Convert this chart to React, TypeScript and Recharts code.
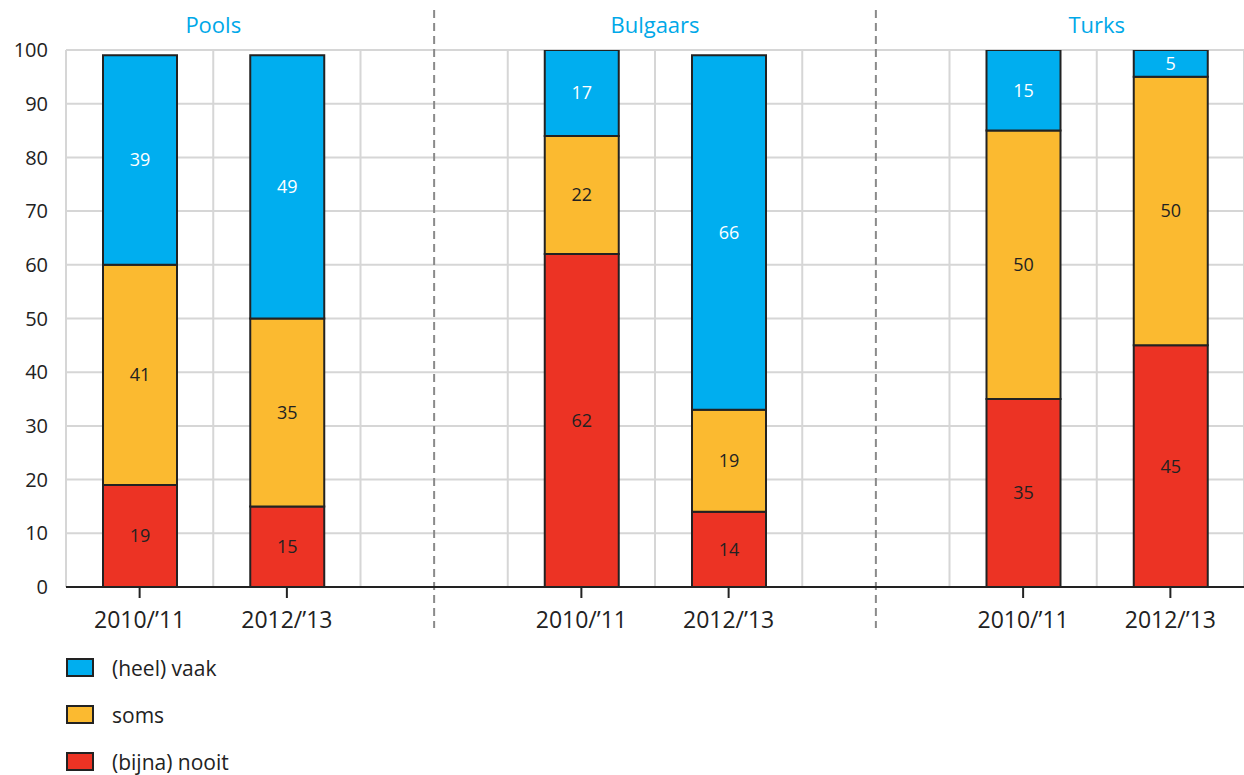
import React from "react";
import {
  Bar,
  BarChart,
  CartesianGrid,
  LabelList,
  Legend,
  ReferenceLine,
  XAxis,
  YAxis,
} from "recharts";

const slots = ["pools-a", "pools-b", "gap-1", "bulg-a", "bulg-b", "gap-2", "turks-a", "turks-b"];
const periods = ["2010/’11", "2012/’13", "", "2010/’11", "2012/’13", "", "2010/’11", "2012/’13"];
const groupTitles = ["Pools", "", "", "Bulgaars", "", "", "Turks", ""];
const gapSlots = ["gap-1", "gap-2"];

const nooit = [19, 15, null, 62, 14, null, 35, 45];
const soms = [41, 35, null, 22, 19, null, 50, 50];
const vaak = [39, 49, null, 17, 66, null, 15, 5];

const yTicks = [0, 10, 20, 30, 40, 50, 60, 70, 80, 90, 100];

const series = [
  { key: "nooit", name: "(bijna) nooit", color: "#ec3324", labelColor: "#222222" },
  { key: "soms", name: "soms", color: "#fbba30", labelColor: "#222222" },
  { key: "vaak", name: "(heel) vaak", color: "#00aeef", labelColor: "#ffffff" },
];

const data = slots.map((slot, i) => ({
  slot,
  nooit: nooit[i],
  soms: soms[i],
  vaak: vaak[i],
}));

const FONT = "'Open Sans', sans-serif";
const INK = "#222222";

function PeriodTick(props: any) {
  const { x, y, payload } = props;
  const label = periods[slots.indexOf(payload.value)];
  if (!label) return null;
  return (
    <g>
      <line x1={x} x2={x} y1={y} y2={y + 11} stroke={INK} strokeWidth={2} />
      <text x={x} y={y + 41} textAnchor="middle" fontSize={23} fill={INK} fontFamily={FONT}>
        {label}
      </text>
    </g>
  );
}

function GroupTick(props: any) {
  const { x, y, payload, width } = props;
  const title = groupTitles[slots.indexOf(payload.value)];
  if (!title) return null;
  const slotWidth = (width || 1178) / slots.length;
  return (
    <text
      x={x + slotWidth / 2}
      y={y - 17}
      textAnchor="middle"
      fontSize={22}
      fill="#00a8e8"
      fontFamily={FONT}
    >
      {title}
    </text>
  );
}

function LegendBox() {
  const rows = [...series].reverse();
  return (
    <div style={{ paddingTop: 4, paddingLeft: 66, fontFamily: FONT }}>
      {rows.map((s) => (
        <div key={s.key} style={{ display: "flex", alignItems: "center", height: 47 }}>
          <span
            style={{
              display: "inline-block",
              width: 24,
              height: 15,
              background: s.color,
              border: `2px solid ${INK}`,
            }}
          />
          <span style={{ marginLeft: 18, fontSize: 21, lineHeight: "26px", color: INK }}>{s.name}</span>
        </div>
      ))}
    </div>
  );
}

function GroupDivider(p: any) {
  const top = Math.min(p.y1, p.y2);
  const bottom = Math.max(p.y1, p.y2);
  return (
    <line
      x1={p.x1}
      x2={p.x2}
      y1={top - 40}
      y2={bottom + 41}
      stroke="#8a8a8a"
      strokeWidth={2}
      strokeDasharray="8 5"
    />
  );
}

export default function App() {
  return (
    <div style={{ position: "absolute", left: 0, top: 0, background: "#fff" }}>
      <BarChart
        width={1244}
        height={775}
        data={data}
        margin={{ top: 0, right: 0, bottom: 0, left: 0 }}
        barSize={74}
      >
        <CartesianGrid
          stroke="#d6d6d6"
          strokeWidth={2}
          verticalCoordinatesGenerator={({ offset }: any) =>
            Array.from({ length: slots.length + 1 }, (_, i) => offset.left + (i * offset.width) / slots.length)
          }
        />
        <XAxis
          xAxisId="top"
          orientation="top"
          dataKey="slot"
          height={50}
          axisLine={false}
          tickLine={false}
          tickSize={0}
          tickMargin={0}
          interval={0}
          tick={<GroupTick />}
        />
        <XAxis
          dataKey="slot"
          height={53}
          axisLine={{ stroke: INK, strokeWidth: 2 }}
          tickLine={false}
          tickSize={0}
          tickMargin={0}
          interval={0}
          tick={<PeriodTick />}
        />
        <YAxis
          domain={[0, 100]}
          allowDataOverflow
          ticks={yTicks}
          width={66}
          axisLine={false}
          tickLine={false}
          tickSize={0}
          tickMargin={18}
          interval={0}
          tick={{ fontSize: 20, fill: INK, fontFamily: FONT }}
        />
        {series.map((s) => (
          <Bar
            key={s.key}
            dataKey={s.key}
            name={s.name}
            stackId="share"
            fill={s.color}
            stroke={INK}
            strokeWidth={2}
            isAnimationActive={false}
          >
            <LabelList
              dataKey={s.key}
              position="center"
              fill={s.labelColor}
              fontSize={18}
              fontFamily={FONT}
            />
          </Bar>
        ))}
        {gapSlots.map((g) => (
          <ReferenceLine key={g} x={g} shape={GroupDivider} />
        ))}
        <Legend verticalAlign="bottom" align="left" height={135} content={<LegendBox />} />
      </BarChart>
    </div>
  );
}
